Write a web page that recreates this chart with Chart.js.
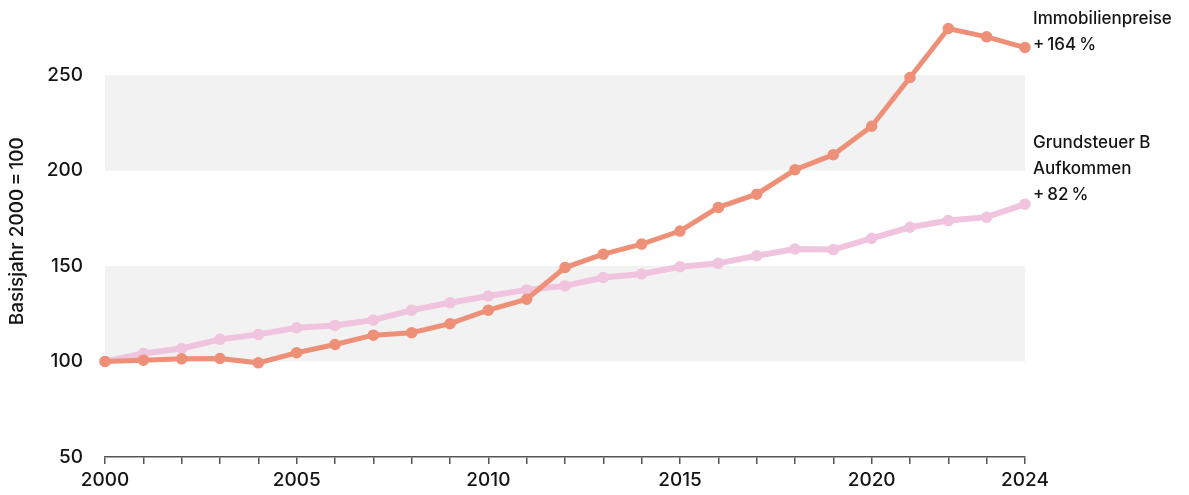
<!DOCTYPE html>
<html>
<head>
<meta charset="utf-8">
<script src="https://cdn.jsdelivr.net/npm/chart.js@4"></script>
<style>
  html, body { margin: 0; padding: 0; background: #fff; }
  #wrap { width: 1189px; height: 495px; }
</style>
</head>
<body>
<div id="wrap"><canvas id="myChart"></canvas></div>
<script>
const years = [2000, 2001, 2002, 2003, 2004, 2005, 2006, 2007, 2008, 2009, 2010, 2011, 2012,
               2013, 2014, 2015, 2016, 2017, 2018, 2019, 2020, 2021, 2022, 2023, 2024];
const immobilienpreise = [100, 100.7, 101.4, 101.6, 99.3, 104.6, 108.9, 113.8, 115.1, 119.8, 126.9, 132.6, 149.2,
                          156.2, 161.5, 168.3, 180.7, 187.6, 200.4, 208.3, 223.2, 248.7, 274.4, 270, 264.4];
const grundsteuer = [100, 104.2, 106.8, 111.6, 114.2, 117.7, 118.9, 121.7, 126.9, 130.8, 134.3, 137.5, 139.6,
                     144.0, 145.8, 149.6, 151.4, 155.4, 158.9, 158.6, 164.5, 170.3, 173.8, 175.6, 182.4];
const yTicks = [50, 100, 150, 200, 250];
const xLabels = [2000, 2005, 2010, 2015, 2020, 2024];
const bands = [[100, 150], [200, 250]];
const yTitle = 'Basisjahr 2000\u2009=\u2009100';
const endLabels = [
    ['Immobilienpreise', '+\u2009164\u2009%'],
    ['Grundsteuer B', 'Aufkommen', '+\u200982\u2009%']
];

const FONT = 'Inter, "Noto Sans", sans-serif';
const TEXT = '#141414';
const ctx = document.getElementById('myChart');

// grey bands behind the lines
const bandPlugin = {
    id: 'bands',
    beforeDatasetsDraw(chart) {
        const { ctx, scales: { x, y } } = chart;
        ctx.save();
        ctx.fillStyle = '#f2f2f2';
        bands.forEach(([lo, hi]) => {
            const top = y.getPixelForValue(hi);
            const bottom = y.getPixelForValue(lo);
            const left = x.getPixelForValue(years[0]);
            const right = x.getPixelForValue(years[years.length - 1]);
            ctx.fillRect(left, top, right - left, bottom - top);
        });
        ctx.restore();
    }
};

// y axis title + labels at the end of each line
const textPlugin = {
    id: 'texts',
    afterDatasetsDraw(chart) {
        const { ctx, chartArea } = chart;
        ctx.save();
        ctx.fillStyle = TEXT;

        // rotated y title
        ctx.save();
        ctx.font = '500 19px ' + FONT;
        ctx.textAlign = 'center';
        ctx.textBaseline = 'middle';
        ctx.translate(17, (chartArea.top + chartArea.bottom) / 2 - 10);
        ctx.rotate(-Math.PI / 2);
        ctx.fillText(yTitle, 0, 0);
        ctx.restore();

        ctx.font = '500 17px ' + FONT;
        ctx.textAlign = 'left';
        ctx.textBaseline = 'middle';
        const offsets = [-3, -9];
        chart.data.datasets.forEach((ds, i) => {
            const meta = chart.getDatasetMeta(i);
            const last = meta.data[meta.data.length - 1];
            const lines = endLabels[i];
            const lh = 26;
            lines.forEach((t, j) => {
                const yy = last.y + offsets[i] - (lines.length - 1 - j) * lh;
                ctx.fillText(t, last.x + 8, yy);
            });
        });
        ctx.restore();
    }
};

new Chart(ctx, {
    type: 'line',
    data: {
        datasets: [{
            label: 'Immobilienpreise',
            data: years.map((yr, i) => ({ x: yr, y: immobilienpreise[i] })),
            borderColor: '#ee9078',
            backgroundColor: '#ee9078',
            pointBackgroundColor: '#ee9078',
            pointBorderColor: '#ee9078',
            borderWidth: 5,
            pointRadius: 5,
            pointBorderWidth: 1.5,
            pointHoverRadius: 5,
            clip: false
        }, {
            label: 'Grundsteuer B Aufkommen',
            data: years.map((yr, i) => ({ x: yr, y: grundsteuer[i] })),
            borderColor: '#f0c4de',
            backgroundColor: '#f0c4de',
            pointBackgroundColor: '#f0c4de',
            pointBorderColor: '#f0c4de',
            borderWidth: 6,
            pointRadius: 5,
            pointBorderWidth: 1.5,
            pointHoverRadius: 5,
            clip: false
        }]
    },
    options: {
        responsive: true,
        maintainAspectRatio: false,
        animation: false,
        layout: { padding: { top: 24, right: 164, left: 0, bottom: 0 } },
        plugins: {
            legend: { display: false },
            tooltip: { enabled: false }
        },
        scales: {
            x: {
                type: 'linear',
                min: 2000,
                max: 2024,
                afterFit(scale) { scale.height = 38; },
                border: { display: true, color: '#555', width: 1.5 },
                grid: { display: true, drawOnChartArea: false, drawTicks: true, tickLength: 7, color: '#555', lineWidth: 1.5 },
                ticks: {
                    stepSize: 1,
                    autoSkip: false,
                    maxRotation: 0,
                    padding: 5,
                    color: TEXT,
                    font: { family: FONT, size: 19, weight: 500 },
                    callback: v => xLabels.includes(v) ? String(v) : ''
                }
            },
            y: {
                min: 50,
                max: 276,
                afterFit(scale) { scale.width = 105; },
                border: { display: false },
                grid: { display: false },
                ticks: {
                    stepSize: 50,
                    includeBounds: false,
                    padding: 14,
                    color: TEXT,
                    font: { family: FONT, size: 19, weight: 500 },
                    callback: v => yTicks.includes(v) ? String(v) : null
                }
            }
        }
    },
    plugins: [bandPlugin, textPlugin]
});
</script>
</body>
</html>
